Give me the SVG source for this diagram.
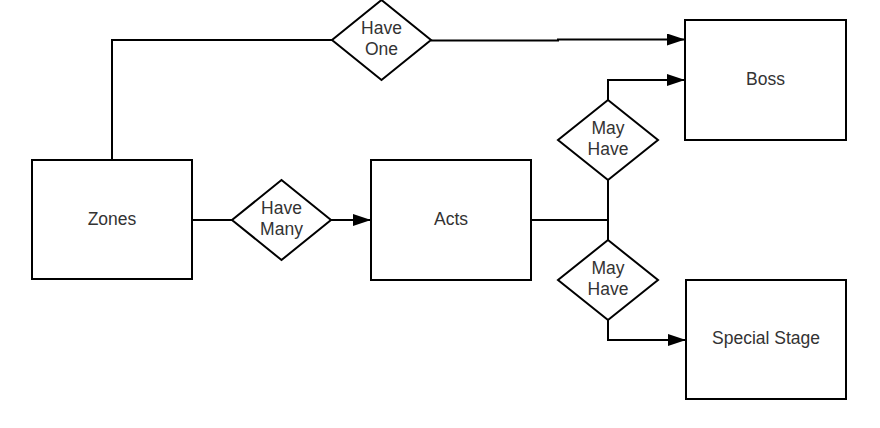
<svg xmlns="http://www.w3.org/2000/svg" width="880" height="428" viewBox="0 0 880 428">
<style>
.box{fill:#fff;stroke:#000;stroke-width:2}
.dia{fill:#fff;stroke:#000;stroke-width:2}
.ln{fill:none;stroke:#000;stroke-width:2}
text{font-family:"Liberation Sans",Arial,sans-serif;font-size:17.5px;fill:#333;text-anchor:middle}
</style>
<defs>
<marker id="ah" viewBox="0 0 18 12" refX="18" refY="6" markerWidth="18" markerHeight="12" markerUnits="userSpaceOnUse" orient="auto">
<path d="M0,0 L18,6 L0,12 Z" fill="#000"/>
</marker>
</defs>
<rect width="880" height="428" fill="#fff"/>
<g id="connectors">
<polyline class="ln" points="112,160 112,40 332,40"/>
<polyline class="ln" points="431,40.5 558,40.5 558,39.5 685,39.5" marker-end="url(#ah)"/>
<line class="ln" x1="192" y1="220" x2="232" y2="220"/>
<line class="ln" x1="331" y1="220" x2="371" y2="220" marker-end="url(#ah)"/>
<polyline class="ln" points="531,220 608,220"/>
<line class="ln" x1="608" y1="180" x2="608" y2="240"/>
<polyline class="ln" points="608,100 608,80 685,80" marker-end="url(#ah)"/>
<polyline class="ln" points="608,320 608,340 686,340" marker-end="url(#ah)"/>
</g>
<g id="zones"><rect class="box" x="32" y="160" width="160" height="119"/><text x="112" y="225">Zones</text></g>
<g id="acts"><rect class="box" x="371" y="160" width="160" height="120"/><text x="451" y="225">Acts</text></g>
<g id="boss"><rect class="box" x="685" y="20" width="161" height="120"/><text x="765.5" y="85">Boss</text></g>
<g id="special-stage"><rect class="box" x="686" y="280" width="160" height="119"/><text x="766" y="344">Special Stage</text></g>
<g id="have-one"><polygon class="dia" points="381.5,0 431,40 381.5,80 332,40"/><text x="381.5" y="34">Have</text><text x="381.5" y="55">One</text></g>
<g id="have-many"><polygon class="dia" points="281.5,180 331,220 281.5,260 232,220"/><text x="281.5" y="214">Have</text><text x="281.5" y="235">Many</text></g>
<g id="may-have-boss"><polygon class="dia" points="608,100 658,140 608,180 558,140"/><text x="608" y="134">May</text><text x="608" y="155">Have</text></g>
<g id="may-have-special"><polygon class="dia" points="608,240 658,280 608,320 558,280"/><text x="608" y="274">May</text><text x="608" y="295">Have</text></g>
</svg>
